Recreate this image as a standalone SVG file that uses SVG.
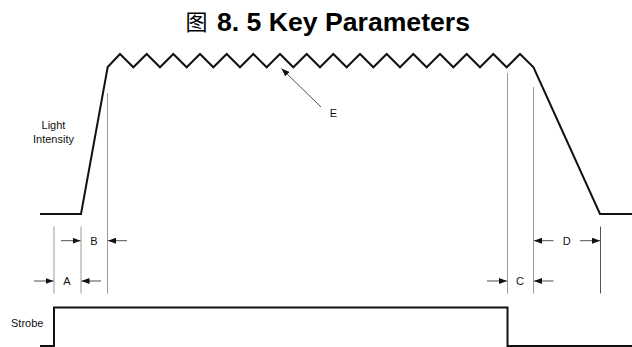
<svg xmlns="http://www.w3.org/2000/svg" width="632" height="347" viewBox="0 0 632 347">
<style>
.sig{fill:none;stroke:#111;stroke-width:2;stroke-linejoin:miter}
.guide{stroke:#9a9a9a;stroke-width:1}
.dark{stroke:#555;stroke-width:1}
.dim{stroke:#222;stroke-width:0.8;fill:none}
.lbl{font-family:"Liberation Sans",Arial,sans-serif;font-size:11px;fill:#111}
.ctr{text-anchor:middle}
.title{font-family:"Liberation Sans",Arial,sans-serif;font-weight:bold;font-size:26px;fill:#000}
</style>
<defs>
<marker id="ah" markerUnits="userSpaceOnUse" markerWidth="8" markerHeight="6" refX="8" refY="3" orient="auto">
<path d="M0,0 L8,3 L0,6 z" fill="#111"/>
</marker>
</defs>
<rect width="632" height="347" fill="#fff"/>
<g id="title">
<text x="185.5" y="30" font-family="'Noto Sans CJK SC',sans-serif" font-size="22" fill="#000">图</text>
<text class="title" x="217" y="30.5" textLength="253" lengthAdjust="spacingAndGlyphs">8. 5 Key Parameters</text>
</g>
<g id="guides">
<line class="guide" x1="54" y1="226.5" x2="54" y2="293.5"/>
<line class="guide" x1="81" y1="226.5" x2="81" y2="293.5"/>
<line class="guide" x1="107.5" y1="93" x2="107.5" y2="293.5"/>
<line class="guide" x1="507.5" y1="73" x2="507.5" y2="293.5"/>
<line class="guide" x1="533.5" y1="87" x2="533.5" y2="293.5"/>
<line class="dark" x1="600.5" y1="226.5" x2="600.5" y2="293.5"/>
</g>
<g id="light-intensity">
<polyline class="sig" points="40,214 81,214 107.7,67 120,54 133.33,67.3 146.67,54 160,67.3 173.33,54 186.67,67.3 200,54 213.33,67.3 226.67,54 240,67.3 253.33,54 266.67,67.3 280,54 293.33,67.3 306.67,54 320,67.3 333.33,54 346.67,67.3 360,54 373.33,67.3 386.67,54 400,67.3 413.33,54 426.67,67.3 440,54 453.33,67.3 466.67,54 480,67.3 493.33,54 506.67,67.3 520,54 533.5,67.3 600,214 632,214"/>
<text class="lbl ctr" x="53.5" y="129">Light</text>
<text class="lbl ctr" x="53.5" y="143">Intensity</text>
</g>
<g id="strobe">
<path class="sig" d="M40,346 H54 V307.5 H507.5 V346 H632"/>
<text class="lbl" x="11" y="326.5">Strobe</text>
</g>
<g id="connectors">
<line class="dim" x1="61" y1="240.7" x2="80.5" y2="240.7" marker-end="url(#ah)"/>
<line class="dim" x1="127" y1="240.7" x2="108" y2="240.7" marker-end="url(#ah)"/>
<line class="dim" x1="34" y1="281" x2="53.5" y2="281" marker-end="url(#ah)"/>
<line class="dim" x1="101" y1="281" x2="81.5" y2="281" marker-end="url(#ah)"/>
<line class="dim" x1="553.5" y1="240.7" x2="534" y2="240.7" marker-end="url(#ah)"/>
<line class="dim" x1="580" y1="240.7" x2="600" y2="240.7" marker-end="url(#ah)"/>
<line class="dim" x1="487" y1="281" x2="507" y2="281" marker-end="url(#ah)"/>
<line class="dim" x1="553.5" y1="281" x2="534" y2="281" marker-end="url(#ah)"/>
<line class="dim" x1="321" y1="107" x2="281.5" y2="68.5" marker-end="url(#ah)"/>
</g>
<g id="labels">
<text class="lbl ctr" x="94" y="244.8">B</text>
<text class="lbl ctr" x="67" y="285">A</text>
<text class="lbl ctr" x="566.7" y="244.8">D</text>
<text class="lbl ctr" x="520" y="285">C</text>
<text class="lbl ctr" x="333.5" y="116.8">E</text>
</g>
</svg>
